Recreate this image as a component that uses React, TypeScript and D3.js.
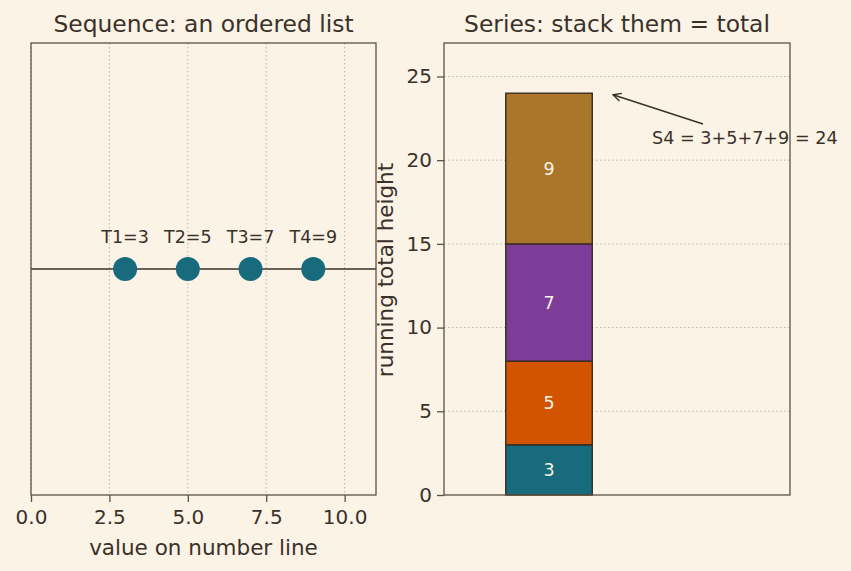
import * as d3 from 'd3';
import React, { useRef, useEffect } from 'react';

const terms = ['T1', 'T2', 'T3', 'T4'];
const termValues = [3, 5, 7, 9];
const stackColors = ['#176b7d', '#d35400', '#7d3c98', '#a9762a'];
const lineTicks = [0, 2.5, 5, 7.5, 10];
const heightTicks = [0, 5, 10, 15, 20, 25];

const bg = '#faf3e6';
const ink = '#3a3129';
const spine = '#5c5242';
const grid = '#bdb4a6';
const font = "'DejaVu Sans', sans-serif";

function App() {
  const ref = useRef<SVGSVGElement>(null);

  useEffect(() => {
    const svg = d3.select(ref.current);
    svg.selectAll('*').remove();

    const top = 43, bottom = 495;

    // left panel: points on a number line
    const x1 = d3.scaleLinear().domain([0, 11]).range([31, 376]);
    const y1 = d3.scaleLinear().domain([-1, 1]).range([bottom, top]);
    const left = svg.append('g');

    left.selectAll('line.grid')
      .data(lineTicks)
      .enter().append('line')
      .attr('x1', d => x1(d)).attr('x2', d => x1(d))
      .attr('y1', top).attr('y2', bottom)
      .attr('stroke', grid).attr('stroke-width', 1)
      .attr('stroke-dasharray', '1.5,2.5');

    left.append('line')
      .attr('x1', x1(0)).attr('x2', x1(11))
      .attr('y1', y1(0)).attr('y2', y1(0))
      .attr('stroke', ink).attr('stroke-width', 1.4);

    left.selectAll('circle')
      .data(termValues)
      .enter().append('circle')
      .attr('cx', d => x1(d)).attr('cy', y1(0)).attr('r', 12)
      .attr('fill', stackColors[0]);

    left.selectAll('text.term')
      .data(termValues)
      .enter().append('text')
      .attr('x', d => x1(d)).attr('y', y1(0) - 26)
      .attr('text-anchor', 'middle')
      .attr('font-family', font).attr('font-size', 17.5).attr('fill', ink)
      .text((d, i) => `${terms[i]}=${d}`);

    left.append('rect')
      .attr('x', 31).attr('y', top).attr('width', 345).attr('height', bottom - top)
      .attr('fill', 'none').attr('stroke', spine).attr('stroke-width', 1.3);

    left.append('g')
      .attr('transform', `translate(0,${bottom})`)
      .call(d3.axisBottom(x1).tickValues(lineTicks).tickFormat(d3.format('.1f')).tickSize(7).tickPadding(8))
      .call(g => g.select('.domain').remove())
      .call(g => g.selectAll('line').attr('stroke', spine).attr('stroke-width', 1.3))
      .call(g => g.selectAll('text').attr('font-family', font).attr('font-size', 20).attr('fill', ink));

    left.append('text')
      .attr('x', (31 + 376) / 2).attr('y', 555)
      .attr('text-anchor', 'middle')
      .attr('font-family', font).attr('font-size', 21.5).attr('fill', ink)
      .text('value on number line');

    left.append('text')
      .attr('x', (31 + 376) / 2).attr('y', 32)
      .attr('text-anchor', 'middle')
      .attr('font-family', font).attr('font-size', 23.4).attr('fill', ink)
      .text('Sequence: an ordered list');

    // right panel: the same terms stacked into one bar
    const x2 = d3.scaleLinear().domain([-0.607, 1.393]).range([444, 790]);
    const y2 = d3.scaleLinear().domain([0, 27]).range([bottom, top]);
    const right = svg.append('g');

    right.selectAll('line.grid')
      .data(heightTicks.slice(1))
      .enter().append('line')
      .attr('x1', 444).attr('x2', 790)
      .attr('y1', d => y2(d)).attr('y2', d => y2(d))
      .attr('stroke', grid).attr('stroke-width', 1)
      .attr('stroke-dasharray', '1.5,2.5');

    const stacked = termValues.map((v, i) => ({
      v, i, base: d3.sum(termValues.slice(0, i)),
    }));
    const barW = 0.5;

    right.selectAll('rect.seg')
      .data(stacked)
      .enter().append('rect')
      .attr('x', x2(-barW / 2))
      .attr('width', x2(barW / 2) - x2(-barW / 2))
      .attr('y', d => y2(d.base + d.v))
      .attr('height', d => y2(d.base) - y2(d.base + d.v))
      .attr('fill', d => stackColors[d.i])
      .attr('stroke', '#3a2c20').attr('stroke-width', 1.4);

    right.selectAll('text.seg')
      .data(stacked)
      .enter().append('text')
      .attr('x', x2(0)).attr('y', d => y2(d.base + d.v / 2))
      .attr('dy', '0.35em')
      .attr('text-anchor', 'middle')
      .attr('font-family', font).attr('font-size', 17.5).attr('fill', bg)
      .text(d => d.v);

    const total = d3.sum(termValues);
    svg.append('defs').append('marker')
      .attr('id', 'arrowhead')
      .attr('viewBox', '0 0 10 10').attr('refX', 9).attr('refY', 5)
      .attr('markerWidth', 10).attr('markerHeight', 10)
      .attr('markerUnits', 'userSpaceOnUse')
      .attr('orient', 'auto')
      .append('path')
      .attr('d', 'M1,1 L9,5 L1,9')
      .attr('fill', 'none').attr('stroke', ink).attr('stroke-width', 1.4);

    right.append('line')
      .attr('x1', 703).attr('y1', 124)
      .attr('x2', x2(0.37)).attr('y2', y2(total) + 1.5)
      .attr('stroke', ink).attr('stroke-width', 1.4)
      .attr('marker-end', 'url(#arrowhead)');

    right.append('text')
      .attr('x', 652).attr('y', 144)
      .attr('font-family', font).attr('font-size', 17.6).attr('fill', ink)
      .text(`S4 = ${termValues.join('+')} = ${total}`);

    right.append('rect')
      .attr('x', 444).attr('y', top).attr('width', 346).attr('height', bottom - top)
      .attr('fill', 'none').attr('stroke', spine).attr('stroke-width', 1.3);

    right.append('g')
      .attr('transform', 'translate(444,0)')
      .call(d3.axisLeft(y2).tickValues(heightTicks).tickSize(7).tickPadding(5))
      .call(g => g.select('.domain').remove())
      .call(g => g.selectAll('line').attr('stroke', spine).attr('stroke-width', 1.3))
      .call(g => g.selectAll('text').attr('font-family', font).attr('font-size', 20).attr('fill', ink));

    right.append('text')
      .attr('transform', `translate(393,${(top + bottom) / 2 + 1}) rotate(-90)`)
      .attr('text-anchor', 'middle')
      .attr('font-family', font).attr('font-size', 21.5).attr('fill', ink)
      .text('running total height');

    right.append('text')
      .attr('x', (444 + 790) / 2).attr('y', 32)
      .attr('text-anchor', 'middle')
      .attr('font-family', font).attr('font-size', 23.4).attr('fill', ink)
      .text('Series: stack them = total');
  }, []);

  return (
    <svg ref={ref} width={851} height={571}
      style={{ position: 'absolute', left: 0, top: 0, background: bg }} />
  );
}

export default App;
